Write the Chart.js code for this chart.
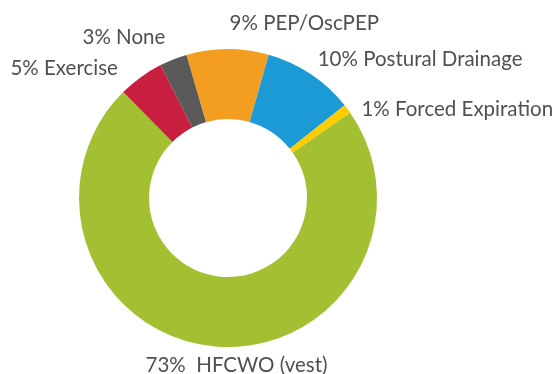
<!DOCTYPE html>
<html>
<head>
<meta charset="utf-8">
<script src="https://cdn.jsdelivr.net/npm/chart.js@4"></script>
<style>
  html, body { margin: 0; padding: 0; background: #fff; }
  #wrap { width: 559px; height: 374px; }
</style>
</head>
<body>
<div id="wrap"><canvas id="airwayChart"></canvas></div>
<script>
// airway clearance methods, share of patients (%)
const methods = ['PEP/OscPEP', 'Postural Drainage', 'Forced Expiration', ' HFCWO (vest)', 'Exercise', 'None'];
const shares = [9, 10, 1, 73, 5, 3];
const sliceColors = ['#F39E20', '#1B9AD6', '#FFCC00', '#A2C032', '#C81E3F', '#595959'];

// where each label sits relative to the outer middle of its slice
const labelSpots = [
  { align: 'left', dx: 2, dy: -26 },
  { align: 'left', dx: 7, dy: -15 },
  { align: 'left', dx: 14, dy: 0 },
  { align: 'center', dx: 22, dy: 19 },
  { align: 'right', dx: -23, dy: -9 },
  { align: 'right', dx: -8, dy: -22 }
];

const sliceLabels = {
  id: 'sliceLabels',
  afterDatasetsDraw(chart) {
    const ctx = chart.ctx;
    const arcs = chart.getDatasetMeta(0).data;
    ctx.save();
    ctx.font = '20.5px Lato';
    ctx.fillStyle = '#505050';
    ctx.textBaseline = 'middle';
    arcs.forEach((arc, i) => {
      const mid = (arc.startAngle + arc.endAngle) / 2;
      const x = arc.x + Math.cos(mid) * arc.outerRadius + labelSpots[i].dx;
      const y = arc.y + Math.sin(mid) * arc.outerRadius + labelSpots[i].dy;
      ctx.textAlign = labelSpots[i].align;
      ctx.fillText(shares[i] + '% ' + methods[i], x, y);
    });
    ctx.restore();
  }
};

new Chart(document.getElementById('airwayChart'), {
  type: 'doughnut',
  data: {
    labels: methods,
    datasets: [{
      data: shares,
      backgroundColor: sliceColors,
      borderWidth: 0
    }]
  },
  options: {
    responsive: true,
    maintainAspectRatio: false,
    animation: false,
    rotation: -16.2,
    cutout: '53%',
    layout: { padding: { left: 79, right: 182, top: 49, bottom: 27 } },
    plugins: {
      legend: { display: false },
      tooltip: { enabled: false }
    }
  },
  plugins: [sliceLabels]
});
</script>
</body>
</html>
